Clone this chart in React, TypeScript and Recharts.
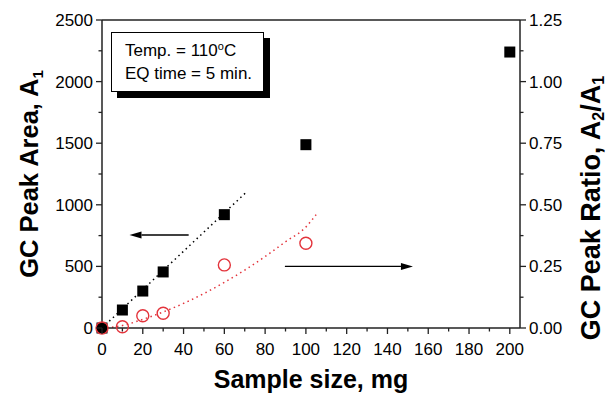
import React from 'react';
import {
  ComposedChart,
  Line,
  Scatter,
  XAxis,
  YAxis,
  ReferenceLine,
} from 'recharts';

const sampleSize = [0, 10, 20, 30, 60, 100, 200];
const peakArea = [0, 146, 300, 455, 920, 1488, 2240];
const ratioSize = [0, 10, 20, 30, 60, 100];
const peakRatio = [0, 0.005, 0.05, 0.06, 0.256, 0.344];

const areaFitX = [0, 71];
const areaFitY = [0, 1106];
const ratioFitX = [0, 10, 20, 30, 40, 50, 60, 70, 80, 90, 100, 105];
const ratioFitY = [0, 0.01, 0.035, 0.065, 0.1, 0.14, 0.185, 0.235, 0.29, 0.35, 0.41, 0.46];

const xTicks = [0, 10, 20, 30, 40, 50, 60, 70, 80, 90, 100, 110, 120, 130, 140, 150, 160, 170, 180, 190, 200];
const leftTicks = [0, 250, 500, 750, 1000, 1250, 1500, 1750, 2000, 2250, 2500];
const rightTicks = [0, 0.125, 0.25, 0.375, 0.5, 0.625, 0.75, 0.875, 1, 1.125, 1.25];

const RED = '#e3343c';
const AXIS = '#222';
const FONT = '"Liberation Sans", Arial, sans-serif';

const areaData = sampleSize.map((x, i) => ({ x, y: peakArea[i] }));
const ratioData = ratioSize.map((x, i) => ({ x, y: peakRatio[i] }));
const areaFit = areaFitX.map((x, i) => ({ x, y: areaFitY[i] }));
const ratioFit = ratioFitX.map((x, i) => ({ x, y: ratioFitY[i] }));

const XTick = (props: any) => {
  const { x, y, payload } = props;
  const major = payload.value % 20 === 0;
  return (
    <g>
      <line x1={x} y1={y} x2={x} y2={y + (major ? 6 : 3.5)} stroke={AXIS} strokeWidth={1.3} />
      {major && (
        <text x={x} y={y + 27} textAnchor="middle" fontSize={17} fontFamily={FONT} fill="#000">
          {payload.value}
        </text>
      )}
    </g>
  );
};

const LeftTick = (props: any) => {
  const { x, y, payload } = props;
  const major = payload.value % 500 === 0;
  return (
    <g>
      <line x1={x} y1={y} x2={x - (major ? 6 : 3.5)} y2={y} stroke={AXIS} strokeWidth={1.3} />
      {major && (
        <text x={x - 9} y={y + 6} textAnchor="end" fontSize={17} fontFamily={FONT} fill="#000">
          {payload.value}
        </text>
      )}
    </g>
  );
};

const RightTick = (props: any) => {
  const { x, y, payload } = props;
  const major = Math.round(payload.value * 1000) % 250 === 0;
  return (
    <g>
      <line x1={x} y1={y} x2={x + (major ? 6 : 3.5)} y2={y} stroke={AXIS} strokeWidth={1.3} />
      {major && (
        <text x={x + 9} y={y + 6} textAnchor="start" fontSize={17} fontFamily={FONT} fill="#000">
          {payload.value.toFixed(2)}
        </text>
      )}
    </g>
  );
};

const Square = (p: any) => (
  <rect x={p.cx - 5.5} y={p.cy - 5.5} width={11} height={11} fill="#000" />
);

const Ring = (p: any) => (
  <circle cx={p.cx} cy={p.cy} r={6} fill="none" stroke={RED} strokeWidth={1.4} />
);

const Arrow = (p: any) => {
  const { x1, y1, x2, y2 } = p;
  const dx = x2 - x1;
  const dy = y2 - y1;
  const len = Math.sqrt(dx * dx + dy * dy) || 1;
  const ux = dx / len;
  const uy = dy / len;
  const hl = 12;
  const hw = 3.5;
  const bx = x2 - ux * hl;
  const by = y2 - uy * hl;
  return (
    <g>
      <line x1={x1} y1={y1} x2={bx} y2={by} stroke="#000" strokeWidth={1.3} />
      <polygon
        points={`${x2},${y2} ${bx - uy * hw},${by + ux * hw} ${bx + uy * hw},${by - ux * hw}`}
        fill="#000"
      />
    </g>
  );
};

const LeftTitle = () => (
  <text
    x={38}
    y={174}
    transform="rotate(-90 38 174)"
    textAnchor="middle"
    fontSize={25.5}
    fontWeight="bold"
    fontFamily={FONT}
    fill="#000"
  >
    GC Peak Area, A
    <tspan fontSize={15} dy={5}>1</tspan>
  </text>
);

const RightTitle = () => (
  <text
    x={600}
    y={208}
    transform="rotate(-90 600 208)"
    textAnchor="middle"
    fontSize={27}
    fontWeight="bold"
    fontFamily={FONT}
    fill="#000"
  >
    GC Peak Ratio, A
    <tspan fontSize={16} dy={4}>2</tspan>
    <tspan dy={-4}>/A</tspan>
    <tspan fontSize={16} dy={4}>1</tspan>
  </text>
);

const BottomTitle = () => (
  <text x={311} y={388} textAnchor="middle" fontSize={25} fontWeight="bold" fontFamily={FONT} fill="#000">
    Sample size, mg
  </text>
);

export default function App() {
  return (
    <div style={{ position: 'absolute', left: 0, top: 0, width: 610, height: 393, background: '#fff' }}>
      <ComposedChart width={610} height={393} margin={{ top: 20, right: 0, bottom: 0, left: 0 }}>
        <XAxis
          dataKey="x"
          type="number"
          domain={[0, 205]}
          ticks={xTicks}
          interval={0}
          tickSize={0}
          tickMargin={0}
          tickLine={false}
          axisLine={{ stroke: AXIS, strokeWidth: 1.5 }}
          tick={<XTick />}
          height={65}
          label={<BottomTitle />}
        />
        <YAxis
          yAxisId="left"
          orientation="left"
          type="number"
          domain={[0, 2500]}
          ticks={leftTicks}
          interval={0}
          tickSize={0}
          tickMargin={0}
          tickLine={false}
          axisLine={{ stroke: AXIS, strokeWidth: 1.5 }}
          tick={<LeftTick />}
          width={102}
          label={<LeftTitle />}
        />
        <YAxis
          yAxisId="right"
          orientation="right"
          type="number"
          domain={[0, 1.25]}
          ticks={rightTicks}
          interval={0}
          tickSize={0}
          tickMargin={0}
          tickLine={false}
          axisLine={{ stroke: AXIS, strokeWidth: 1.5 }}
          tick={<RightTick />}
          width={90}
          label={<RightTitle />}
        />
        <ReferenceLine yAxisId="left" y={2500} stroke={AXIS} strokeWidth={1.5} />
        <Line
          yAxisId="left"
          data={areaFit}
          dataKey="y"
          type="linear"
          stroke="#000"
          strokeWidth={1.5}
          strokeDasharray="1.5 3.5"
          dot={false}
          activeDot={false}
          isAnimationActive={false}
        />
        <Line
          yAxisId="right"
          data={ratioFit}
          dataKey="y"
          type="monotone"
          stroke={RED}
          strokeWidth={1.5}
          strokeDasharray="1.5 3.5"
          dot={false}
          activeDot={false}
          isAnimationActive={false}
        />
        <Scatter yAxisId="left" data={areaData} dataKey="y" shape={<Square />} isAnimationActive={false} />
        <Scatter yAxisId="right" data={ratioData} dataKey="y" shape={<Ring />} isAnimationActive={false} />
        <ReferenceLine
          yAxisId="left"
          segment={[{ x: 42.5, y: 755 }, { x: 13.5, y: 755 }]}
          shape={<Arrow />}
        />
        <ReferenceLine
          yAxisId="right"
          segment={[{ x: 89.7, y: 0.25 }, { x: 152.5, y: 0.25 }]}
          shape={<Arrow />}
        />
      </ComposedChart>
      <div
        style={{
          position: 'absolute',
          left: 111,
          top: 32,
          width: 153,
          height: 60,
          border: '1px solid #000',
          boxShadow: '6px 6px 0 #000',
          background: '#fff',
          fontFamily: FONT,
          fontSize: 17,
          lineHeight: '23px',
          padding: '6px 0 0 13px',
          boxSizing: 'border-box',
          color: '#000',
        }}
      >
        <div>
          Temp. = 110<sup style={{ fontSize: 11, verticalAlign: 'top', lineHeight: '14px' }}>o</sup>C
        </div>
        <div>EQ time = 5 min.</div>
      </div>
    </div>
  );
}
